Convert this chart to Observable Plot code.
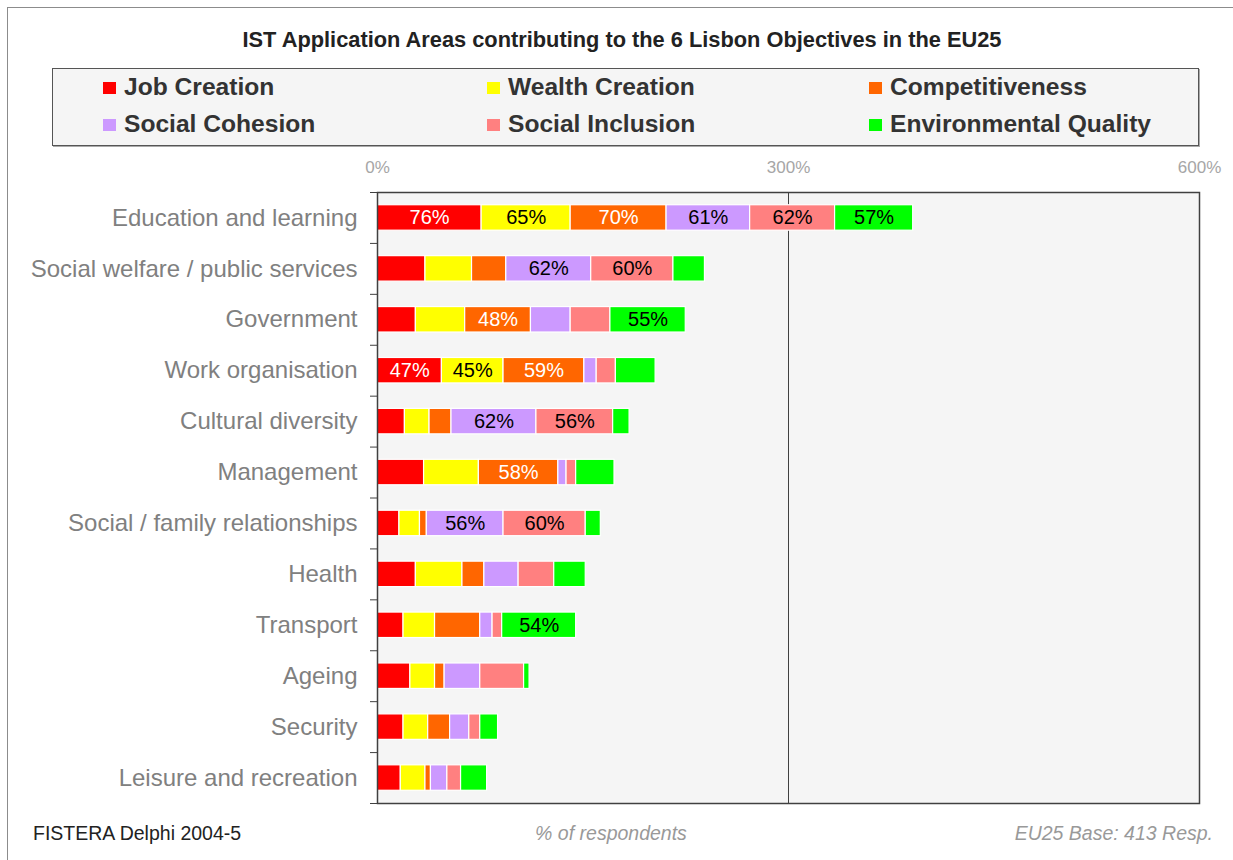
<!DOCTYPE html>
<html><head><meta charset="utf-8">
<script src="https://cdn.jsdelivr.net/npm/d3@7"></script>
<script src="https://cdn.jsdelivr.net/npm/@observablehq/plot@0.6"></script>
<style>
body{margin:0;background:#fff;font-family:"Liberation Sans",Arial,sans-serif;}
#page{position:relative;width:1233px;height:860px;overflow:hidden;}
#border{position:absolute;left:7px;top:7px;width:1300px;height:900px;border:1.5px solid #8c8c8c;}
#title{position:absolute;left:0;width:1244px;top:27px;text-align:center;font-weight:bold;font-size:21.8px;color:#222;line-height:26px;}
#legend{position:absolute;left:52px;top:68px;width:1145px;height:76px;background:#f5f5f5;border:1px solid #555;box-shadow:1px 1px 0 #aaa;}
.item{position:absolute;font-weight:bold;font-size:24.6px;color:#333;white-space:nowrap;line-height:28px;}
.sw{display:inline-block;width:13px;height:12px;margin-right:8px;vertical-align:1px;}
#chart{position:absolute;left:0;top:140px;}
.foot{position:absolute;top:821px;font-size:19.5px;line-height:24px;white-space:nowrap;}
</style>
</head><body>
<div id="page">
  <div id="border"></div>
  <div id="title"></div>
  <div id="legend"></div>
  <div id="chart"></div>
  <div class="foot" id="src" style="left:33px;color:#222;"></div>
  <div class="foot" id="xlab" style="left:0;width:1222px;text-align:center;color:#999;font-style:italic;"></div>
  <div class="foot" id="base" style="right:20px;color:#999;font-style:italic;"></div>
</div>
<script>
const titleText = "IST Application Areas contributing to the 6 Lisbon Objectives in the EU25";
const sourceText = "FISTERA Delphi 2004-5";
const xLabelText = "% of respondents";
const baseText = "EU25 Base: 413 Resp.";

const categories = ["Education and learning","Social welfare / public services","Government","Work organisation","Cultural diversity","Management","Social / family relationships","Health","Transport","Ageing","Security","Leisure and recreation"];
const objectives = ["Job Creation","Wealth Creation","Competitiveness","Social Cohesion","Social Inclusion","Environmental Quality"];
const colors = ["#ff0000","#ffff00","#ff6600","#cc99ff","#ff8080","#00ff00"];
const labelColors = ["#ffffff","#000000","#ffffff","#000000","#000000","#000000"];

const jobCreation          = [76,35,28,47,20,34,16,28,19,24,19,17];
const wealthCreation       = [65,34,36,45,18,40,15,34,23,18,18,18];
const competitiveness      = [70,25,48,59,16,58, 5,16,33, 7,16, 4];
const socialCohesion       = [61,62,29, 9,62, 6,56,25, 9,26,14,12];
const socialInclusion      = [62,60,29,14,56, 7,60,26, 7,32, 8,10];
const environmentalQuality = [57,23,55,29,12,28,11,23,54, 4,13,19];
const xTicks = [0,300,600];
const labelThreshold = 45;

const series = [jobCreation,wealthCreation,competitiveness,socialCohesion,socialInclusion,environmentalQuality];
const data = [];
categories.forEach((c,i)=>{
  objectives.forEach((o,j)=>{
    data.push({area:c, objective:o, value:series[j][i], labelColor:labelColors[j]});
  });
});

document.getElementById("title").textContent = titleText;
document.getElementById("src").textContent = sourceText;
document.getElementById("xlab").textContent = xLabelText;
document.getElementById("base").textContent = baseText;

const legend = document.getElementById("legend");
const colX = [50, 434, 816];
const rowY = [4, 41];
objectives.forEach((o,j)=>{
  const d = document.createElement("div");
  d.className = "item";
  d.style.left = colX[j%3]+"px";
  d.style.top = rowY[Math.floor(j/3)]+"px";
  const s = document.createElement("span");
  s.className = "sw"; s.style.background = colors[j];
  d.appendChild(s);
  d.appendChild(document.createTextNode(o));
  legend.appendChild(d);
});

const step = (803-192)/categories.length;
const labelText = (fillColor) => d => (d.value >= labelThreshold && d.labelColor === fillColor) ? d.value + "%" : "";

const chart = Plot.plot({
  width: 1233,
  height: 680,
  marginLeft: 377,
  marginRight: 34,
  marginTop: 52,
  marginBottom: 17,
  style: {fontFamily: "'Liberation Sans', Arial, sans-serif", background: "transparent"},
  x: {domain: [0,600], label: null},
  y: {domain: categories, paddingInner: 0.5, paddingOuter: 0.25, round: false, label: null},
  color: {type: "ordinal", domain: objectives, range: colors},
  marks: [
    Plot.frame({fill: "#f5f5f5", stroke: "none"}),
    Plot.ruleX([300], {stroke: "#404040", strokeWidth: 1}),
    Plot.barX(data, Plot.stackX({x: "value", y: "area", fill: "objective", stroke: "#ffffff", strokeWidth: 1.2})),
    Plot.text(data, Plot.stackX({x: "value", y: "area", z: "objective", text: labelText("#ffffff"), fill: "#ffffff", fontSize: 20})),
    Plot.text(data, Plot.stackX({x: "value", y: "area", z: "objective", text: labelText("#000000"), fill: "#000000", fontSize: 20})),
    Plot.axisX({anchor: "top", ticks: xTicks, tickFormat: d => d + "%", tickSize: 0, tickPadding: 20, fontSize: 17, color: "#a6a6a6", label: null}),
    Plot.axisY({anchor: "left", tickSize: 0, tickPadding: 20, fontSize: 24, color: "#808080", label: null}),
    Plot.axisY({anchor: "left", tickSize: 7, text: null, stroke: "#404040", dy: -step/2, label: null}),
    Plot.axisY({anchor: "left", ticks: [categories[categories.length-1]], tickSize: 7, text: null, stroke: "#404040", dy: step/2, label: null}),
    Plot.frame({stroke: "#404040", strokeWidth: 1.5})
  ]
});
document.getElementById("chart").appendChild(chart);
</script>
</body></html>
